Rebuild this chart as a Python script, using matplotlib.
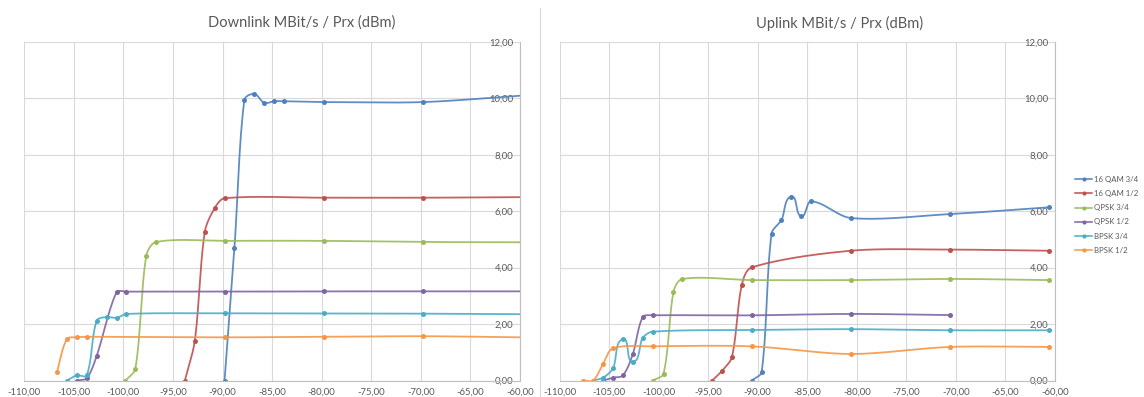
import numpy as np
import matplotlib
matplotlib.use("Agg")
import matplotlib.pyplot as plt
from matplotlib.lines import Line2D

plt.rcParams['font.family'] = ['Lato', 'DejaVu Sans']

# ---- data: Downlink throughput (MBit/s) vs received power (dBm) ----
dl_16qam34_x = [-89.8, -88.8, -87.8, -86.8, -85.8, -84.8, -83.8, -79.8, -69.8, -59.8]
dl_16qam34_y = [0.00, 4.71, 9.95, 10.16, 9.84, 9.90, 9.90, 9.87, 9.87, 10.10]
dl_16qam12_x = [-93.8, -92.8, -91.8, -90.8, -89.8, -79.8, -69.8, -59.8]
dl_16qam12_y = [0.00, 1.41, 5.26, 6.11, 6.46, 6.48, 6.48, 6.50]
dl_qpsk34_x = [-99.8, -98.8, -97.7, -96.7, -89.8, -79.8, -69.8, -59.8]
dl_qpsk34_y = [0.00, 0.41, 4.41, 4.91, 4.95, 4.95, 4.91, 4.90]
dl_qpsk12_x = [-104.7, -103.7, -102.7, -100.7, -99.7, -89.8, -79.8, -69.8, -59.8]
dl_qpsk12_y = [0.00, 0.08, 0.87, 3.13, 3.15, 3.15, 3.16, 3.16, 3.16]
dl_bpsk34_x = [-105.7, -104.7, -103.7, -102.7, -101.7, -100.7, -99.7, -89.8, -79.8, -69.8, -59.8]
dl_bpsk34_y = [0.00, 0.18, 0.18, 2.12, 2.25, 2.22, 2.36, 2.38, 2.38, 2.37, 2.35]
dl_bpsk12_x = [-106.7, -105.7, -104.7, -103.7, -89.8, -79.8, -69.8, -59.8]
dl_bpsk12_y = [0.31, 1.47, 1.53, 1.55, 1.53, 1.55, 1.57, 1.53]

# ---- data: Uplink throughput (MBit/s) vs received power (dBm) ----
ul_16qam34_x = [-90.6, -89.6, -88.6, -87.6, -86.6, -85.6, -84.6, -80.6, -70.6, -60.6]
ul_16qam34_y = [0.00, 0.30, 5.21, 5.69, 6.52, 5.82, 6.35, 5.76, 5.90, 6.14]
ul_16qam12_x = [-94.6, -93.6, -92.6, -91.6, -90.6, -80.6, -70.6, -60.6]
ul_16qam12_y = [0.00, 0.34, 0.83, 3.40, 4.01, 4.60, 4.64, 4.60]
ul_qpsk34_x = [-100.6, -99.5, -98.5, -97.6, -90.6, -80.6, -70.6, -60.6]
ul_qpsk34_y = [0.00, 0.24, 3.13, 3.60, 3.56, 3.56, 3.60, 3.56]
ul_qpsk12_x = [-105.6, -104.6, -103.6, -102.6, -101.6, -100.6, -90.6, -80.6, -70.6]
ul_qpsk12_y = [0.00, 0.10, 0.18, 0.94, 2.25, 2.31, 2.31, 2.36, 2.32]
ul_bpsk34_x = [-106.6, -105.6, -104.6, -103.6, -102.6, -101.6, -100.6, -90.6, -80.6, -70.6, -60.6]
ul_bpsk34_y = [0.00, 0.10, 0.43, 1.47, 0.66, 1.51, 1.73, 1.79, 1.82, 1.78, 1.78]
ul_bpsk12_x = [-107.6, -106.6, -105.6, -104.6, -100.6, -90.6, -80.6, -70.6, -60.6]
ul_bpsk12_y = [0.00, 0.00, 0.60, 1.14, 1.21, 1.21, 0.94, 1.19, 1.19]

series_names = ["16 QAM 3/4", "16 QAM 1/2", "QPSK 3/4", "QPSK 1/2", "BPSK 3/4", "BPSK 1/2"]
series_colors = ["#4F81BD", "#C0504D", "#9BBB59", "#8064A2", "#4BACC6", "#F79646"]

downlink = [(dl_16qam34_x, dl_16qam34_y), (dl_16qam12_x, dl_16qam12_y),
            (dl_qpsk34_x, dl_qpsk34_y), (dl_qpsk12_x, dl_qpsk12_y),
            (dl_bpsk34_x, dl_bpsk34_y), (dl_bpsk12_x, dl_bpsk12_y)]
uplink = [(ul_16qam34_x, ul_16qam34_y), (ul_16qam12_x, ul_16qam12_y),
          (ul_qpsk34_x, ul_qpsk34_y), (ul_qpsk12_x, ul_qpsk12_y),
          (ul_bpsk34_x, ul_bpsk34_y), (ul_bpsk12_x, ul_bpsk12_y)]

x_ticks = list(range(-110, -59, 5))
y_ticks = list(range(0, 13, 2))

TEXT = "#595959"
GRID = "#D9D9D9"
AXIS = "#BFBFBF"

W, H = 1144, 397
fig = plt.figure(figsize=(W / 100, H / 100), dpi=100)
fig.patch.set_facecolor("white")


def smooth_curve(ax, xs, ys, steps=40, tension=0.3):
    """Bezier smoothing through the points, computed in screen space.

    Tangent directions follow the neighbouring points; the handle length
    is tied to each segment's own length so short steps do not overshoot.
    """
    pts = ax.transData.transform(np.column_stack([xs, ys]))
    n = len(pts)
    tang = []
    for i in range(n):
        a = pts[i - 1] if i > 0 else pts[i]
        b = pts[i + 1] if i + 1 < n else pts[i]
        d = b - a
        norm = np.hypot(*d)
        tang.append(d / norm if norm > 0 else np.zeros(2))
    out = [pts[0]]
    t = np.linspace(0, 1, steps)[1:, None]
    for i in range(n - 1):
        p1, p2 = pts[i], pts[i + 1]
        seg_len = np.hypot(*(p2 - p1))
        c1 = p1 + tang[i] * seg_len * tension
        c2 = p2 - tang[i + 1] * seg_len * tension
        seg = ((1 - t) ** 3) * p1 + 3 * ((1 - t) ** 2) * t * c1 \
            + 3 * (1 - t) * t ** 2 * c2 + t ** 3 * p2
        out.extend(seg)
    out = np.array(out)
    data = ax.transData.inverted().transform(out)
    return data[:, 0], data[:, 1]


def fmt(v):
    return f"{v:.2f}".replace(".", ",")


def setup_axes(rect, title, title_x):
    ax = fig.add_axes(rect)
    ax.set_xlim(-110, -60)
    ax.set_ylim(0, 12)
    ax.set_xticks(x_ticks)
    ax.set_xticklabels([fmt(v) for v in x_ticks])
    ax.set_yticks(y_ticks)
    ax.set_yticklabels([fmt(v) for v in y_ticks])
    ax.yaxis.tick_right()
    ax.tick_params(axis="x", length=0, pad=5, labelsize=6.8, labelcolor=TEXT)
    ax.tick_params(axis="y", length=0, pad=-5, labelsize=6.8, labelcolor=TEXT)
    for lbl in ax.get_yticklabels():
        lbl.set_horizontalalignment("right")
    ax.grid(True, color=GRID, lw=0.8)
    ax.set_axisbelow(True)
    for s in ("left", "top"):
        ax.spines[s].set_visible(False)
    for s in ("bottom", "right"):
        ax.spines[s].set_color(AXIS)
        ax.spines[s].set_linewidth(0.8)
    fig.text(title_x / W, 1 - 23 / H, title, ha="center", va="center",
             fontsize=10.5, color=TEXT)
    return ax


ax_dl = setup_axes([24.3 / W, 16.5 / H, 495.7 / W, 338.5 / H],
                   "Downlink MBit/s / Prx (dBm)", 302)
ax_ul = setup_axes([559.5 / W, 16.5 / H, 495.5 / W, 338.5 / H],
                   "Uplink MBit/s / Prx (dBm)", 840)

for ax, data in ((ax_dl, downlink), (ax_ul, uplink)):
    for (xs, ys), color in zip(data, series_colors):
        sx, sy = smooth_curve(ax, xs, ys)
        ax.plot(sx, sy, color=color, lw=1.3, alpha=0.9, solid_capstyle="round")
        ax.plot(xs, ys, ls="none", marker="o", ms=3.6, color=color,
                markeredgewidth=0)

# separator between the two charts
fig.add_artist(Line2D([539.5 / W, 539.5 / W], [0, 1 - 8 / H],
                      transform=fig.transFigure, color=GRID, lw=0.8))

handles = [Line2D([], [], color=c, lw=1.1, marker="o", ms=3.0, markeredgewidth=0)
           for c in series_colors]
fig.legend(handles, series_names, loc="upper left",
           bbox_to_anchor=(1075 / W, 1 - 176 / H), frameon=False,
           fontsize=5.6, labelcolor=TEXT, handlelength=2.2, handletextpad=0.2,
           labelspacing=0.92, borderaxespad=0, borderpad=0)

fig.savefig("out.png", dpi=100, facecolor="white")
